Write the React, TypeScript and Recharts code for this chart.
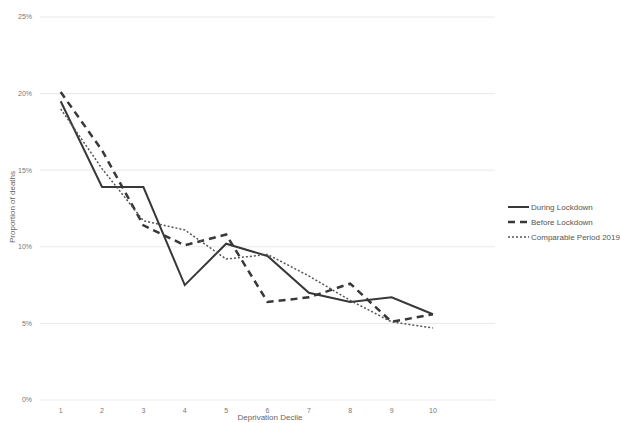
import React from "react";
import {
  LineChart,
  Line,
  XAxis,
  YAxis,
  CartesianGrid,
  Legend,
} from "recharts";

const deciles = [1, 2, 3, 4, 5, 6, 7, 8, 9, 10];
const duringLockdown = [19.5, 13.9, 13.9, 7.5, 10.2, 9.4, 7.0, 6.4, 6.7, 5.6];
const beforeLockdown = [20.1, 16.3, 11.4, 10.1, 10.8, 6.4, 6.7, 7.6, 5.1, 5.6];
const comparable2019 = [19.0, 15.1, 11.7, 11.1, 9.2, 9.5, 8.1, 6.5, 5.1, 4.7];
const yTicks = [0, 5, 10, 15, 20, 25];

const data = deciles.map((d, i) => ({
  decile: d,
  during: duringLockdown[i],
  before: beforeLockdown[i],
  comparable: comparable2019[i],
}));

const FONT = "'Liberation Sans', Arial, sans-serif";
const INK = "#383838";

const legendItems = [
  { label: "During Lockdown", dash: undefined, width: 2, color: INK },
  { label: "Before Lockdown", dash: "7 5", width: 2.5, color: INK },
  { label: "Comparable Period 2019", dash: "2 2", width: 1.5, color: "#555" },
];

function LegendBox() {
  return (
    <svg width={115} height={45} style={{ overflow: "visible" }}>
      {legendItems.map((it, i) => (
        <g key={it.label} transform={`translate(0, ${i * 15 + 6})`}>
          <line
            x1={0}
            x2={21}
            y1={0}
            y2={0}
            stroke={it.color}
            strokeWidth={it.width}
            strokeDasharray={it.dash}
          />
          <text x={23} y={3} fontSize={8} fill="#555" fontFamily={FONT}>
            {it.label}
          </text>
        </g>
      ))}
    </svg>
  );
}

export default function App() {
  return (
    <div style={{ position: "absolute", left: 0, top: 0, background: "#fff" }}>
      <LineChart
        width={621}
        height={423}
        data={data}
        margin={{ top: 17, right: 126, bottom: 0, left: 0 }}
      >
        <CartesianGrid vertical={false} stroke="#e9e9e9" />
        <XAxis
          dataKey="decile"
          type="number"
          domain={[0.5, 11.5]}
          ticks={deciles}
          height={23}
          axisLine={false}
          tickLine={false}
          tick={{ fontSize: 7, fill: "#777", fontFamily: FONT }}
          label={{
            content: () => (
              <text x={270} y={420} textAnchor="middle" fontSize={8} fill="#666" fontFamily={FONT}>
                Deprivation Decile
              </text>
            ),
          }}
        />
        <YAxis
          width={40}
          domain={[0, 25]}
          ticks={yTicks}
          axisLine={false}
          tickLine={false}
          tickFormatter={(v) => `${v}%`}
          tick={{ fontSize: 7, fill: "#777", fontFamily: FONT }}
          label={{
            content: () => (
              <text
                transform="translate(15, 207) rotate(-90)"
                textAnchor="middle"
                fontSize={8}
                fill="#666"
                fontFamily={FONT}
              >
                Proportion of deaths
              </text>
            ),
          }}
        />
        <Legend
          layout="vertical"
          align="center"
          verticalAlign="middle"
          content={() => <LegendBox />}
          wrapperStyle={{ left: 508, top: 201, width: 115 }}
        />
        <Line
          name="During Lockdown"
          dataKey="during"
          type="linear"
          stroke={INK}
          strokeWidth={2}
          dot={false}
          isAnimationActive={false}
        />
        <Line
          name="Before Lockdown"
          dataKey="before"
          type="linear"
          stroke={INK}
          strokeWidth={2.5}
          strokeDasharray="7 5"
          dot={false}
          isAnimationActive={false}
        />
        <Line
          name="Comparable Period 2019"
          dataKey="comparable"
          type="linear"
          stroke="#555"
          strokeWidth={1.5}
          strokeDasharray="2 2"
          dot={false}
          isAnimationActive={false}
        />
      </LineChart>
    </div>
  );
}
